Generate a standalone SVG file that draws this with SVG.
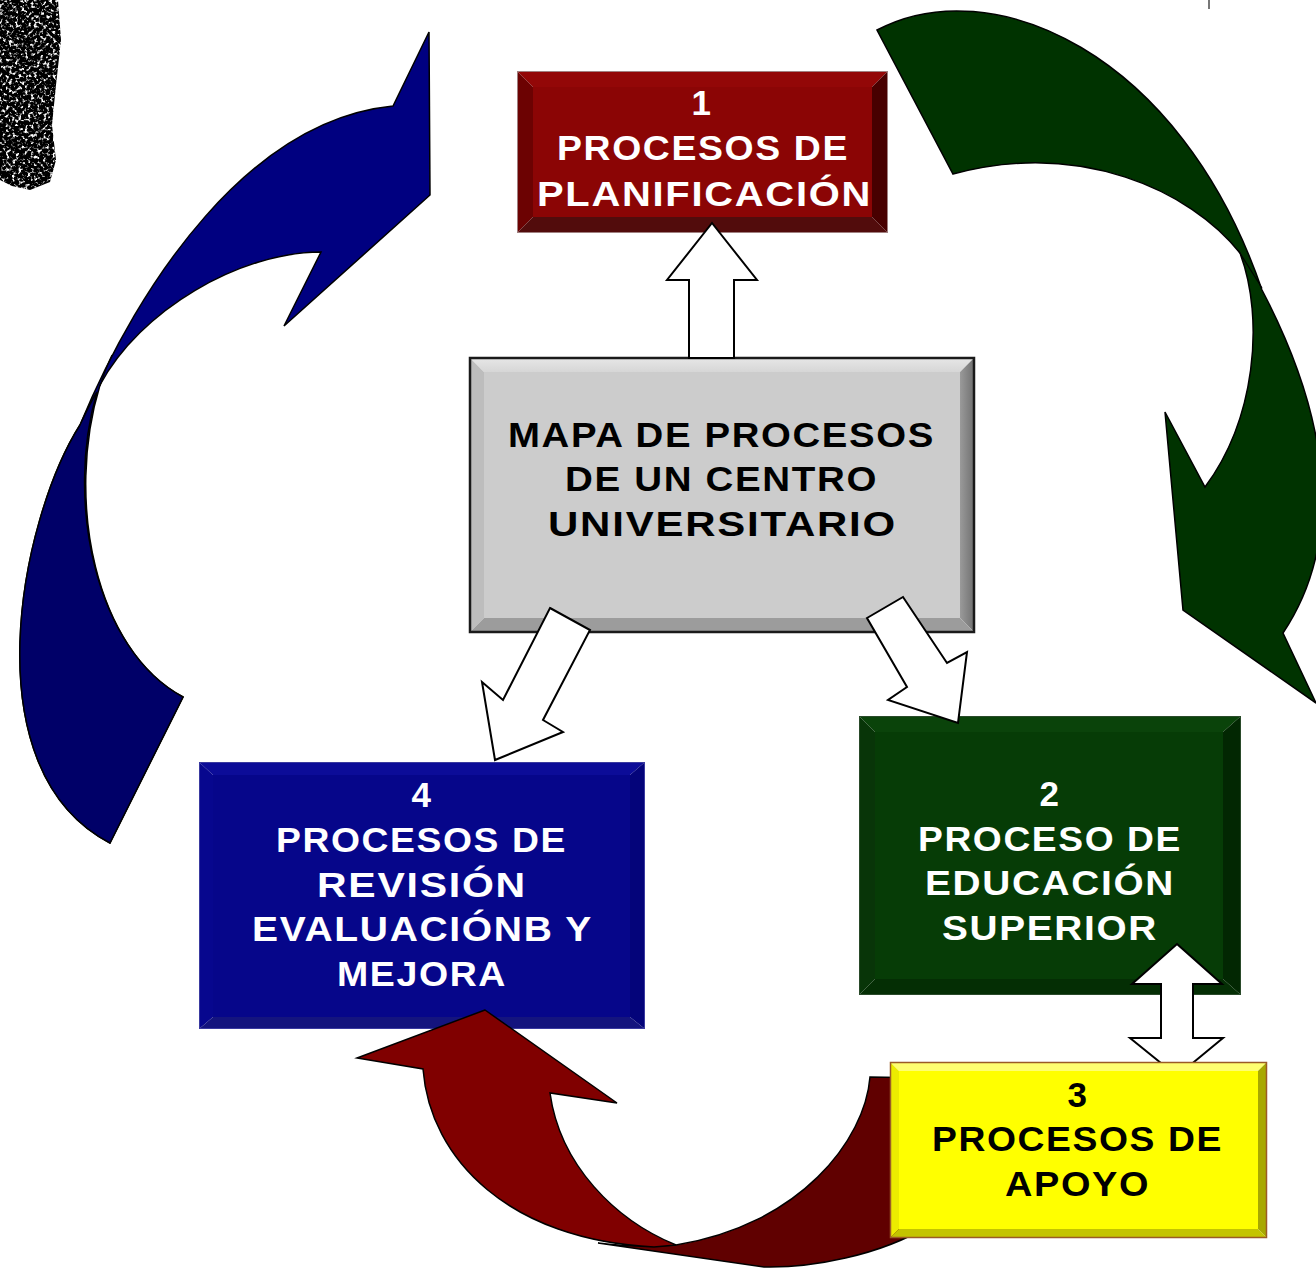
<svg xmlns="http://www.w3.org/2000/svg" width="1316" height="1268" viewBox="0 0 1316 1268">
<style>
.t{font-family:"Liberation Sans",Arial,sans-serif;font-weight:bold;font-size:35px;letter-spacing:1.5px}
.w{fill:#ffffff}
.k{fill:#000000}
.blk{fill:#ffffff;stroke:#000000;stroke-width:2;stroke-linejoin:miter}
.cv{stroke:#000000;stroke-width:1.5;stroke-linejoin:miter}
.ln{fill:none;stroke:#000000;stroke-width:1.2}
</style>
<defs>
<filter id="speck" x="0" y="0" width="100%" height="100%">
<feTurbulence type="fractalNoise" baseFrequency="0.32" numOctaves="2" seed="7" result="n"/>
<feColorMatrix in="n" type="matrix" values="0 0 0 0 0  0 0 0 0 0  0 0 0 0 0  -5 0 0 0 3.6" result="a"/>
<feComposite in="a" in2="SourceGraphic" operator="in"/>
</filter>
<linearGradient id="gTop" x1="0" y1="0" x2="0" y2="1"><stop offset="0" stop-color="#e8e8e8"/><stop offset="1" stop-color="#d6d6d6"/></linearGradient>
<linearGradient id="gRight" x1="0" y1="0" x2="1" y2="0"><stop offset="0" stop-color="#9a9a9a"/><stop offset="1" stop-color="#6e6e6e"/></linearGradient>
</defs>
<rect x="0" y="0" width="1316" height="1268" fill="#ffffff"/>

<!-- decorative speckle -->
<path d="M0,0 L58,0 L61,40 L56,85 L52,125 L56,160 L50,182 L30,190 L12,186 L0,180 Z" fill="#000000" filter="url(#speck)"/>
<rect x="1208" y="0" width="2" height="9" fill="#777777"/>

<g id="node-center">
<polygon points="469,357 975,357 960,372 484,372" fill="url(#gTop)"/>
<polygon points="469,357 484,372 484,618 469,633" fill="#bdbdbd"/>
<polygon points="975,357 975,633 960,618 960,372" fill="url(#gRight)"/>
<polygon points="469,633 484,618 960,618 975,633" fill="#9c9c9c"/>
<rect x="484" y="372" width="476" height="246" fill="#cccccc"/>
<rect x="470" y="358" width="504" height="274" fill="none" stroke="#1a1a1a" stroke-width="2.5"/>
<text class="t k" x="508" y="447" textLength="427" lengthAdjust="spacingAndGlyphs">MAPA DE PROCESOS</text>
<text class="t k" x="565" y="491" textLength="313" lengthAdjust="spacingAndGlyphs">DE UN CENTRO</text>
<text class="t k" x="548" y="536" textLength="349" lengthAdjust="spacingAndGlyphs">UNIVERSITARIO</text>
</g>

<g id="node-1">
<polygon points="517,71 888,71 872,87 533,87" fill="#930707"/>
<polygon points="517,71 533,87 533,217 517,233" fill="#6c0202"/>
<polygon points="888,71 888,233 872,217 872,87" fill="#480000"/>
<polygon points="517,233 533,217 872,217 888,233" fill="#520c0c"/>
<rect x="533" y="87" width="339" height="130" fill="#8b0505"/>
<rect x="517.5" y="71.5" width="370" height="161" fill="none" stroke="#a08080" stroke-width="1"/>
<text class="t w" x="702" y="115" text-anchor="middle">1</text>
<text class="t w" x="557" y="160" textLength="292" lengthAdjust="spacingAndGlyphs">PROCESOS DE</text>
<text class="t w" x="537" y="206" textLength="335" lengthAdjust="spacingAndGlyphs">PLANIFICACIÓN</text>
</g>

<g id="node-2">
<polygon points="859,716 1241,716 1223,732 875,732" fill="#0a430a"/>
<polygon points="859,716 875,732 875,979 859,995" fill="#083508"/>
<polygon points="1241,716 1241,995 1223,979 1223,732" fill="#022702"/>
<polygon points="859,995 875,979 1223,979 1241,995" fill="#042e04"/>
<rect x="875" y="732" width="348" height="247" fill="#063c06"/>
<rect x="859.5" y="716.5" width="381" height="278" fill="none" stroke="#2a4a2a" stroke-width="1"/>
<text class="t w" x="1050" y="806" text-anchor="middle">2</text>
<text class="t w" x="918" y="851" textLength="264" lengthAdjust="spacingAndGlyphs">PROCESO DE</text>
<text class="t w" x="925" y="895" textLength="250" lengthAdjust="spacingAndGlyphs">EDUCACIÓN</text>
<text class="t w" x="942" y="940" textLength="216" lengthAdjust="spacingAndGlyphs">SUPERIOR</text>
</g>

<g id="node-4">
<polygon points="199,762 645,762 630,775 213,775" fill="#0c0c98"/>
<polygon points="199,762 213,775 213,1017 199,1029" fill="#07078e"/>
<polygon points="645,762 645,1029 630,1017 630,775" fill="#04047a"/>
<polygon points="199,1029 213,1017 630,1017 645,1029" fill="#14147e"/>
<rect x="213" y="775" width="417" height="242" fill="#06068a"/>
<rect x="199.5" y="762.5" width="445" height="266" fill="none" stroke="#3a3aa0" stroke-width="1"/>
<text class="t w" x="422" y="807" text-anchor="middle">4</text>
<text class="t w" x="276" y="852" textLength="291" lengthAdjust="spacingAndGlyphs">PROCESOS DE</text>
<text class="t w" x="317" y="897" textLength="210" lengthAdjust="spacingAndGlyphs">REVISIÓN</text>
<text class="t w" x="252" y="941" textLength="341" lengthAdjust="spacingAndGlyphs">EVALUACIÓNB Y</text>
<text class="t w" x="337" y="986" textLength="170" lengthAdjust="spacingAndGlyphs">MEJORA</text>
</g>

<g id="connectors">
<!-- blue curved arrow (4 -> 1) -->
<path class="cv" fill="#000080" d="M110,843 L183,697 C95,650 65,500 100,385 C140,310 240,252 321,252 L284,326 L430,195 L429,32 L393,106 C250,120 140,280 80,425 C20,520 -30,770 110,843 Z"/>
<path class="cv" fill="#000068" d="M97,392 C65,500 95,650 183,697 L110,843 C-30,770 20,520 80,425 C86,412 91,401 97,392 Z"/>
<path class="ln" d="M100,386 C104,374 107,365 112,355"/>
<!-- green curved arrow (1 -> 2) -->
<path class="cv" fill="#003300" d="M877,30 C990,-30 1180,50 1262,290 C1330,420 1345,540 1283,633 L1316,703 L1183,610 L1165,412 L1205,487 C1255,420 1265,320 1240,253 C1190,190 1080,140 953,174 Z"/>
<path class="ln" d="M1238,250 L1262,288"/>
<!-- red curved arrow (3 -> 4) -->
<path class="cv" fill="#600000" d="M598,1243 L764,1267 C810,1268 880,1256 930,1225 L930,1078 L870,1077 C865,1140 800,1225 676,1245 C645,1247 620,1246 598,1243 Z"/>
<path class="cv" fill="#800000" d="M485,1010 L357,1058 L423,1069 C430,1160 510,1240 654,1247 L676,1245 C615,1220 560,1165 550,1093 L617,1103 Z"/>
<!-- block arrows -->
<polygon class="blk" points="712,223 757,280 734,280 734,358 689,358 689,280 667,280"/>
<polygon class="blk" points="550,608 590,630 543,720 563,732 495,760 482,682 503,700"/>
<polygon class="blk" points="867,618 903,597 947,663 967,652 958,723 888,700 907,687"/>
<polygon class="blk" points="1177,944 1222,984 1193,984 1193,1038 1223,1038 1177,1076 1130,1038 1161,1038 1161,984 1132,984"/>
</g>

<g id="node-3">
<polygon points="890,1062 1267,1062 1258,1071 899,1071" fill="#ffff70"/>
<polygon points="890,1062 899,1071 899,1229 890,1238" fill="#ecec00"/>
<polygon points="1267,1062 1267,1238 1258,1229 1258,1071" fill="#a8a800"/>
<polygon points="890,1238 899,1229 1258,1229 1267,1238" fill="#c4c400"/>
<rect x="899" y="1071" width="359" height="158" fill="#ffff00"/>
<rect x="890.5" y="1062.5" width="376" height="175" fill="none" stroke="#9b5b25" stroke-width="1.5"/>
<text class="t k" x="1078" y="1107" text-anchor="middle">3</text>
<text class="t k" x="932" y="1151" textLength="291" lengthAdjust="spacingAndGlyphs">PROCESOS DE</text>
<text class="t k" x="1005" y="1196" textLength="145" lengthAdjust="spacingAndGlyphs">APOYO</text>
</g>
</svg>
